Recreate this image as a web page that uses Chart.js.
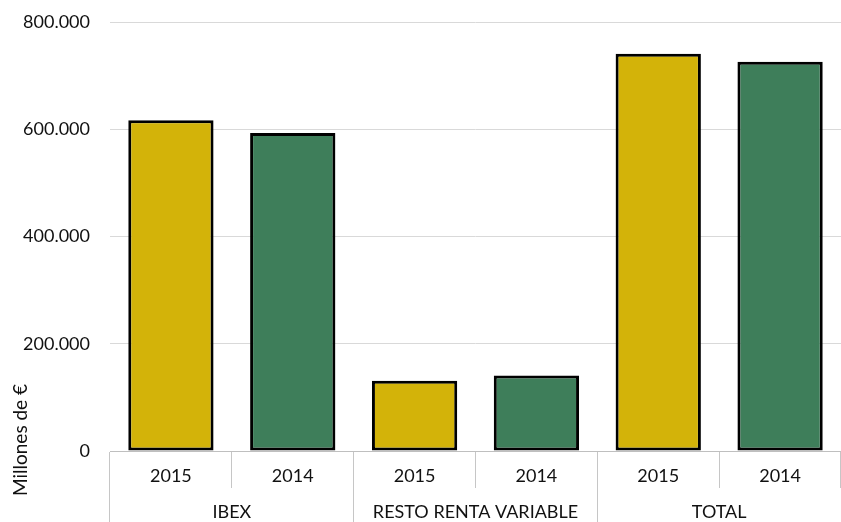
<!DOCTYPE html>
<html>
<head>
  <title>Renta variable</title>
  <script src="https://cdn.jsdelivr.net/npm/chart.js"></script>
  <style>
    body { margin: 0; background: #fff; }
    #wrap { width: 841px; height: 522px; }
  </style>
  <script>
    const groups = ['IBEX', 'RESTO RENTA VARIABLE', 'TOTAL'];
    const years = ['2015', '2014'];
    const values2015 = [617000, 131000, 741000];
    const values2014 = [593000, 141000, 726000];
    const yearColors = ['#D3B309', '#3E7E5A'];
    const yTicks = [0, 200000, 400000, 600000, 800000];
    const yTitle = 'Millones de €';

    window.onload = function() {
      const labels = groups.flatMap(() => years);
      const values = groups.flatMap((g, i) => [values2015[i], values2014[i]]);
      const colors = groups.flatMap(() => yearColors);

      const fontFamily = 'Lato';
      Chart.defaults.font.family = fontFamily;
      Chart.defaults.font.size = 18;
      Chart.defaults.color = '#111';

      // vertical axis title, drawn low on the left like the original
      const yTitlePlugin = {
        id: 'yTitle',
        afterDraw(chart) {
          const ctx = chart.ctx;
          ctx.save();
          ctx.translate(21, 440);
          ctx.rotate(-Math.PI / 2);
          ctx.font = '19px ' + fontFamily;
          ctx.fillStyle = '#111';
          ctx.textAlign = 'center';
          ctx.textBaseline = 'middle';
          ctx.fillText(yTitle, 0, 0);
          ctx.restore();
        }
      };

      const ctx = document.getElementById('myChart').getContext('2d');
      new Chart(ctx, {
        type: 'bar',
        data: {
          labels: labels,
          datasets: [{
            data: values,
            backgroundColor: colors,
            borderColor: '#000',
            borderWidth: 3,
            borderSkipped: false,
            barPercentage: 0.7,
            categoryPercentage: 1
          }]
        },
        options: {
          responsive: true,
          maintainAspectRatio: false,
          animation: false,
          layout: { padding: { top: 22, left: 0, right: 0, bottom: 0 } },
          plugins: {
            legend: { display: false },
            tooltip: { enabled: false }
          },
          scales: {
            x: {
              weight: 0,
              offset: true,
              grid: { offset: true, drawOnChartArea: false, tickLength: 37, color: '#c6c6c6' },
              border: { display: true, color: '#bfbfbf' },
              ticks: { padding: -23, maxRotation: 0 },
              afterFit: s => { s.height = 37; }
            },
            x2: {
              type: 'category',
              position: 'bottom',
              labels: groups,
              weight: 1,
              offset: true,
              grid: { offset: true, drawOnChartArea: false, tickLength: 34, color: '#c6c6c6' },
              border: { display: false },
              ticks: { padding: -21, maxRotation: 0 },
              afterFit: s => { s.height = 34; }
            },
            y: {
              min: 0,
              max: 800000,
              afterBuildTicks: s => { s.ticks = yTicks.map(v => ({ value: v })); },
              grid: { drawTicks: false, color: '#d9d9d9' },
              border: { display: false },
              ticks: {
                padding: 20,
                callback: v => v.toString().replace(/\B(?=(\d{3})+(?!\d))/g, '.')
              },
              afterFit: s => { s.width = 110; s.paddingTop = 0; s.paddingBottom = 0; }
            }
          }
        },
        plugins: [yTitlePlugin]
      });
    };
  </script>
</head>
<body>
<div id="wrap"><canvas id="myChart"></canvas></div>
</body>
</html>
